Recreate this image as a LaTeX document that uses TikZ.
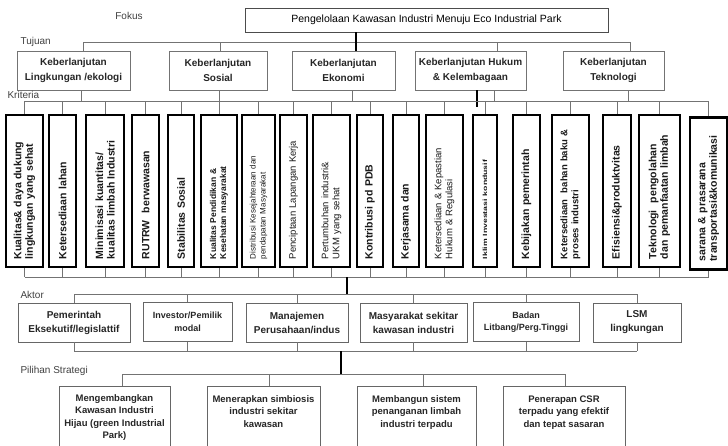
\documentclass[tikz,border=0pt]{standalone}
\usepackage{fontspec}
\setmainfont{Liberation Sans}
\usepackage{graphicx}
\usepackage{tikz}

\tikzset{
  lbl/.style={text=black!75, font=\fontsize{10}{11}\selectfont},
  tuj/.style={draw=black!55, line width=0.9pt, align=center, inner xsep=2pt, minimum height=39pt, text=black!85, font=\bfseries\fontsize{10}{14.5}\selectfont},
  krit/.style={draw=black, line width=2.4pt, rotate=90, text width=136pt, inner xsep=8pt, inner ysep=0pt, align=left, text=black!90},
  big/.style={font=\bfseries\fontsize{10.5}{11.5}\selectfont},
  small/.style={font=\fontsize{9.5}{11}\selectfont},
  act/.style={draw=black!60, line width=0.9pt, align=center, minimum height=39pt, text=black!85, font=\bfseries\fontsize{10}{14}\selectfont},
  str/.style={draw=black!60, line width=0.9pt, align=center, anchor=north, minimum height=62pt, text=black!85, font=\bfseries\fontsize{9.5}{12.5}\selectfont},
  bus/.style={draw=black!55, line width=0.9pt},
  trunk/.style={draw=black, line width=2.2pt}
}

\begin{document}
\begin{tikzpicture}[x=1pt,y=-1pt]
    \useasboundingbox (0,0) rectangle (728,445);
    % fokus
    \node[lbl] (lfokus) at (129,16) {Fokus};
    \node[draw=black!70, line width=0.8pt, minimum width=363pt, minimum height=24pt, font=\fontsize{10.5}{12}\selectfont] (fokus) at (426.5,20) {Pengelolaan Kawasan Industri Menuju Eco Industrial Park};

    % tujuan
    \node[lbl, anchor=west] (ltujuan) at (17,42) {Tujuan};
    \node[tuj, minimum width=113pt] (t1) at (73.5,70.5) {Keberlanjutan\\Lingkungan /ekologi};
    \node[tuj, minimum width=98pt] (t2) at (218,70.5) {Keberlanjutan\\Sosial};
    \node[tuj, minimum width=103pt] (t3) at (343.5,70.5) {Keberlanjutan\\Ekonomi};
    \node[tuj, minimum width=111pt] (t4) at (470.5,70.5) {Keberlanjutan Hukum\\\& Kelembagaan};
    \node[tuj, minimum width=101pt] (t5) at (613.5,70.5) {Keberlanjutan\\Teknologi};

    \coordinate (d1) at (83,42);
    \coordinate (d2) at (220,42);
    \coordinate (d3) at (356,42);
    \coordinate (d4) at (497,42);
    \coordinate (d5) at (630,42);
    \draw[bus] (d1) -- (d5) (d1) -- (d1 |- t1.north) (d2) -- (d2 |- t2.north)
        (d4) -- (d4 |- t4.north) (d5) -- (d5 |- t5.north);
    \draw[trunk] (d3 |- fokus.south) -- (d3 |- t3.north);

    % kriteria
    \node[lbl, anchor=west] (lkriteria) at (4,95) {Kriteria};
    \node[krit, big, minimum height=37pt] (k1) at (24.5,191) {Kualitas\& daya dukung\\lingkungan yang sehat};
    \node[krit, big, minimum height=27pt] (k2) at (62.5,191) {Ketersediaan lahan};
    \node[krit, big, minimum height=38pt] (k3) at (105,191) {Minimisasi kuantitas/\\kualitas limbah Industri};
    \node[krit, big, minimum height=27pt] (k4) at (145.5,191) {RUTRW~~berwawasan};
    \node[krit, big, minimum height=26pt] (k5) at (181,191) {Stabilitas Sosial};
    \node[krit, font=\bfseries\fontsize{8.5}{10}\selectfont, minimum height=36pt] (k6) at (219,191) {Kualitas Pendidikan \&\\Kesehatan masyarakat};
    \node[krit, font=\fontsize{8}{10}\selectfont, minimum height=33pt] (k7) at (258.5,191) {Distribusi Kesejahteraan dan\\pendapatan Masyarakat};
    \node[krit, small, minimum height=27pt] (k8) at (293.5,191) {Penciptaan Lapangan Kerja};
    \node[krit, small, minimum height=37pt] (k9) at (331.5,191) {Pertumbuhan industri\&\\UKM yang sehat};
    \node[krit, big, minimum height=26pt] (k10) at (370,191) {Kontribusi pd PDB};
    \node[krit, big, minimum height=26pt] (k11) at (406,191) {Kerjasama dan};
    \node[krit, small, minimum height=37pt] (k12) at (444.5,191) {Ketersediaan \& Kepastian\\Hukum \& Regulasi};
    \node[krit, font=\bfseries\fontsize{6}{7}\selectfont, minimum height=24pt] (k13) at (485,191) {\scalebox{1.45}[1]{Iklim Investasi kondusif}};
    \node[krit, big, minimum height=27pt] (k14) at (526.5,191) {Kebijakan pemerintah};
    \node[krit, font=\bfseries\fontsize{9.5}{11}\selectfont, minimum height=37pt] (k15) at (570.5,191) {Ketersediaan~~bahan baku \&\\proses industri};
    \node[krit, big, minimum height=28pt] (k16) at (617,191) {Efisiensi\&produktvitas};
    \node[krit, big, minimum height=41pt] (k17) at (659.5,191) {Teknologi~~pengolahan\\dan pemanfaatan limbah};
    \node[krit, big, minimum height=37pt] (k18) at (708.5,193.5) {sarana \& prasarana\\transportasi\&komunikasi};

    \coordinate (kt) at (477,101);
    \coordinate (kt2) at (477,107);
    \coordinate (u1) at (81,101);
    \coordinate (u2) at (219,101);
    \coordinate (u3) at (352,101);
    \coordinate (u4) at (494,101);
    \coordinate (u5) at (628,101);
    \draw[bus] (u1 |- t1.south) -- (u1) (u2 |- t2.south) -- (u2) (u3 |- t3.south) -- (u3)
        (u4 |- t4.south) -- (u4) (u5 |- t5.south) -- (u5);
    \draw[trunk] (kt |- t4.south) -- (kt2);
    \draw[bus] (k1.east |- kt) -- (k18.east |- kt)
        (k1.east) -- (k1.east |- kt) (k2.east) -- (k2.east |- kt) (k3.east) -- (k3.east |- kt)
        (k4.east) -- (k4.east |- kt) (k5.east) -- (k5.east |- kt) (k6.east) -- (k6.east |- kt)
        (k7.east) -- (k7.east |- kt) (k8.east) -- (k8.east |- kt) (k9.east) -- (k9.east |- kt)
        (k10.east) -- (k10.east |- kt) (k11.east) -- (k11.east |- kt) (k12.east) -- (k12.east |- kt)
        (k13.east) -- (k13.east |- kt) (k14.east) -- (k14.east |- kt) (k15.east) -- (k15.east |- kt)
        (k16.east) -- (k16.east |- kt) (k17.east) -- (k17.east |- kt) (k18.east) -- (k18.east |- kt);

    \coordinate (kb) at (347,277);
    \draw[bus] (k1.west |- kb) -- (k18.west |- kb)
        (k1.west) -- (k1.west |- kb) (k2.west) -- (k2.west |- kb) (k3.west) -- (k3.west |- kb)
        (k4.west) -- (k4.west |- kb) (k5.west) -- (k5.west |- kb) (k6.west) -- (k6.west |- kb)
        (k7.west) -- (k7.west |- kb) (k8.west) -- (k8.west |- kb) (k9.west) -- (k9.west |- kb)
        (k10.west) -- (k10.west |- kb) (k11.west) -- (k11.west |- kb) (k12.west) -- (k12.west |- kb)
        (k13.west) -- (k13.west |- kb) (k14.west) -- (k14.west |- kb) (k15.west) -- (k15.west |- kb)
        (k16.west) -- (k16.west |- kb) (k17.west) -- (k17.west |- kb) (k18.west) -- (k18.west |- kb);

    % aktor
    \node[lbl, anchor=west] (laktor) at (17,295) {Aktor};
    \node[act, minimum width=112pt] (a1) at (74,322.5) {Pemerintah\\Eksekutif/legislattif};
    \node[act, minimum width=89pt, font=\bfseries\fontsize{9}{12.5}\selectfont] (a2) at (187.5,322) {Investor/Pemilik\\modal};
    \node[act, minimum width=102pt] (a3) at (297,322.5) {Manajemen\\Perusahaan/indus};
    \node[act, minimum width=107pt] (a4) at (413.5,322.5) {Masyarakat sekitar\\kawasan industri};
    \node[act, minimum width=106pt, font=\bfseries\fontsize{9}{12.5}\selectfont] (a5) at (526,322) {Badan\\Litbang/Perg.Tinggi};
    \node[act, minimum width=88pt] (a6) at (637,322.5) {LSM\\lingkungan};

    \coordinate (ab) at (347,294);
    \draw[trunk] (kb) -- (ab);
    \draw[bus] (a1.north |- ab) -- (a6.north |- ab)
        (a1.north) -- (a1.north |- ab) (a2.north) -- (a2.north |- ab) (a3.north) -- (a3.north |- ab)
        (a4.north) -- (a4.north |- ab) (a5.north) -- (a5.north |- ab) (a6.north) -- (a6.north |- ab);

    \coordinate (ab2) at (341,351);
    \draw[bus] (a1.south |- ab2) -- (a6.south |- ab2)
        (a1.south) -- (a1.south |- ab2) (a2.south) -- (a2.south |- ab2) (a3.south) -- (a3.south |- ab2)
        (a4.south) -- (a4.south |- ab2) (a5.south) -- (a5.south |- ab2) (a6.south) -- (a6.south |- ab2);

    % pilihan strategi
    \node[lbl, anchor=west] (lstrategi) at (17,371) {Pilihan Strategi};
    \node[str, minimum width=111pt] (s1) at (114.5,386) {Mengembangkan\\Kawasan Industri\\Hijau (green Industrial\\Park)};
    \node[str, minimum width=113pt] (s2) at (263.5,386) {Menerapkan simbiosis\\industri sekitar\\kawasan\\\mbox{}};
    \node[str, minimum width=119pt] (s3) at (416.5,386) {Membangun sistem\\penanganan limbah\\industri terpadu\\\mbox{}};
    \node[str, minimum width=122pt] (s4) at (564,386) {Penerapan CSR\\terpadu yang efektif\\dan tepat sasaran\\\mbox{}};

    \coordinate (sb) at (341,374);
    \coordinate (sb1) at (122,374);
    \coordinate (sb2) at (269,374);
    \coordinate (sb3) at (423,374);
    \coordinate (sb4) at (565,374);
    \draw[trunk] (ab2) -- (sb);
    \draw[bus] (sb1) -- (sb4) (sb1) -- (sb1 |- s1.north) (sb2) -- (sb2 |- s2.north)
        (sb3) -- (sb3 |- s3.north) (sb4) -- (sb4 |- s4.north);
\end{tikzpicture}
\end{document}
